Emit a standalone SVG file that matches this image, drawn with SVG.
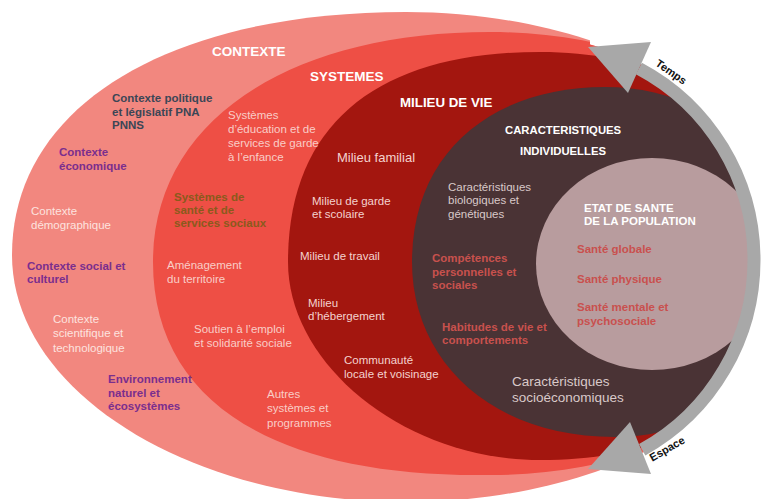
<svg xmlns="http://www.w3.org/2000/svg" width="768" height="499" viewBox="0 0 768 499">
<style>
text{font-family:"Liberation Sans",Arial,sans-serif;}
.h{font-weight:bold;fill:#ffffff;}
.b{font-weight:bold;font-size:11.5px;}
.n{font-size:11.5px;}
.slate{fill:#3b4656;}
.pur{fill:#7a2e8e;}
.lt1{fill:#fde3df;}
.lt2{fill:#f9cdc7;}
.lt3{fill:#f4d2ce;}
.olive{fill:#8a5a1c;}
.lt4{fill:#d9c9c9;}
.rd{fill:#c8514d;}
.sr{fill:#c9504e;}
.ar{font-weight:bold;font-size:11px;fill:#111;}
</style>
<defs>
<clipPath id="clip">
<rect x="0" y="0" width="590" height="499"/>
<circle cx="537" cy="260" r="222"/>
</clipPath>
</defs>
<rect width="768" height="499" fill="#ffffff"/>
<g clip-path="url(#clip)">
<g id="contexte">
<path d="M12,255 C12,105 170,12 406,12 C623,12 800,122 800,257 C800,392 623,502 406,502 C189,502 12,391 12,255 Z" fill="#f2877f"/>
</g>
<g id="systemes">
<path d="M153,262 C153,120 290,32 490,32 C676,32 827,130 827,253 C827,380 676,475 490,475 C280,478 153,405 153,262 Z" fill="#ee4f45"/>
</g>
<g id="milieu">
<path d="M288,262 C288,118 385,52 540,52 C700,52 792,140 792,262 C792,384 700,460 540,460 C405,460 288,365 288,262 Z" fill="#a3160f"/>
</g>
<g id="individuelles">
<path d="M412,262 C412,150 495,87 605,87 C720,87 790,170 790,262 C790,360 720,437 615,437 C490,437 412,360 412,262 Z" fill="#4a3335"/>
</g>
<g id="etat">
<ellipse cx="652" cy="264" rx="116" ry="106" fill="#b89c9e"/>
</g>
</g>
<g id="connectors">
<path d="M638.9,68.4 A217,217 0 0 1 642.2,449.8" fill="none" stroke="#a8a8a8" stroke-width="13"/>
<polygon points="588,47 651,42 628,93" fill="#a8a8a8"/>
<polygon points="588,469 630,422 651,474" fill="#a8a8a8"/>
<text class="ar" transform="translate(669,75) rotate(35)" text-anchor="middle">Temps</text>
<text class="ar" transform="translate(669,452) rotate(-30)" text-anchor="middle">Espace</text>
</g>
<g id="labels-contexte">
<text class="h" x="212" y="56" font-size="13.5">CONTEXTE</text>
<text class="b slate" x="112" y="102">Contexte politique</text>
<text class="b slate" x="112" y="116">et législatif PNA</text>
<text class="b slate" x="112" y="129">PNNS</text>
<text class="b pur" x="59" y="156">Contexte</text>
<text class="b pur" x="59" y="170">économique</text>
<text class="n lt1" x="31" y="215">Contexte</text>
<text class="n lt1" x="31" y="229">démographique</text>
<text class="b pur" x="27" y="270">Contexte social et</text>
<text class="b pur" x="27" y="283">culturel</text>
<text class="n lt1" x="53" y="323">Contexte</text>
<text class="n lt1" x="53" y="337">scientifique et</text>
<text class="n lt1" x="53" y="352">technologique</text>
<text class="b pur" x="108" y="383">Environnement</text>
<text class="b pur" x="108" y="397">naturel et</text>
<text class="b pur" x="108" y="410">écosystèmes</text>
</g>
<g id="labels-systemes">
<text class="h" x="310" y="81" font-size="13.5">SYSTEMES</text>
<text class="n lt2" x="228" y="119">Systèmes</text>
<text class="n lt2" x="228" y="133">d’éducation et de</text>
<text class="n lt2" x="228" y="147">services de garde</text>
<text class="n lt2" x="228" y="161">à l’enfance</text>
<text class="b olive" x="174" y="201">Systèmes de</text>
<text class="b olive" x="174" y="214">santé et de</text>
<text class="b olive" x="174" y="227">services sociaux</text>
<text class="n lt2" x="167" y="269">Aménagement</text>
<text class="n lt2" x="167" y="283">du territoire</text>
<text class="n lt2" x="194" y="333">Soutien à l’emploi</text>
<text class="n lt2" x="194" y="347">et solidarité sociale</text>
<text class="n lt2" x="267" y="398">Autres</text>
<text class="n lt2" x="267" y="412">systèmes et</text>
<text class="n lt2" x="267" y="427">programmes</text>
</g>
<g id="labels-milieu">
<text class="h" x="400" y="107" font-size="13.3">MILIEU DE VIE</text>
<text class="lt3" x="337" y="162" font-size="13">Milieu familial</text>
<text class="n lt3" x="312" y="205">Milieu de garde</text>
<text class="n lt3" x="312" y="218">et scolaire</text>
<text class="n lt3" x="300" y="260">Milieu de travail</text>
<text class="n lt3" x="308" y="307">Milieu</text>
<text class="n lt3" x="308" y="320">d’hébergement</text>
<text class="n lt3" x="344" y="364">Communauté</text>
<text class="n lt3" x="344" y="378">locale et voisinage</text>
</g>
<g id="labels-individuelles">
<text class="h" x="505" y="134" font-size="11.3">CARACTERISTIQUES</text>
<text class="h" x="520" y="155" font-size="11.3">INDIVIDUELLES</text>
<text class="n lt4" x="448" y="191">Caractéristiques</text>
<text class="n lt4" x="448" y="204">biologiques et</text>
<text class="n lt4" x="448" y="218">génétiques</text>
<text class="b rd" x="432" y="262">Compétences</text>
<text class="b rd" x="432" y="276">personnelles et</text>
<text class="b rd" x="432" y="289">sociales</text>
<text class="b rd" x="442" y="331">Habitudes de vie et</text>
<text class="b rd" x="442" y="344">comportements</text>
<text class="lt4" x="512" y="386" font-size="13.5">Caractéristiques</text>
<text class="lt4" x="512" y="402" font-size="13.5">socioéconomiques</text>
</g>
<g id="labels-etat">
<text class="h" x="584" y="212" font-size="11.5">ETAT DE SANTE</text>
<text class="h" x="584" y="225" font-size="11.5">DE LA POPULATION</text>
<text class="b sr" x="577" y="253">Santé globale</text>
<text class="b sr" x="577" y="283">Santé physique</text>
<text class="b sr" x="577" y="311">Santé mentale et</text>
<text class="b sr" x="577" y="325">psychosociale</text>
</g>
</svg>
